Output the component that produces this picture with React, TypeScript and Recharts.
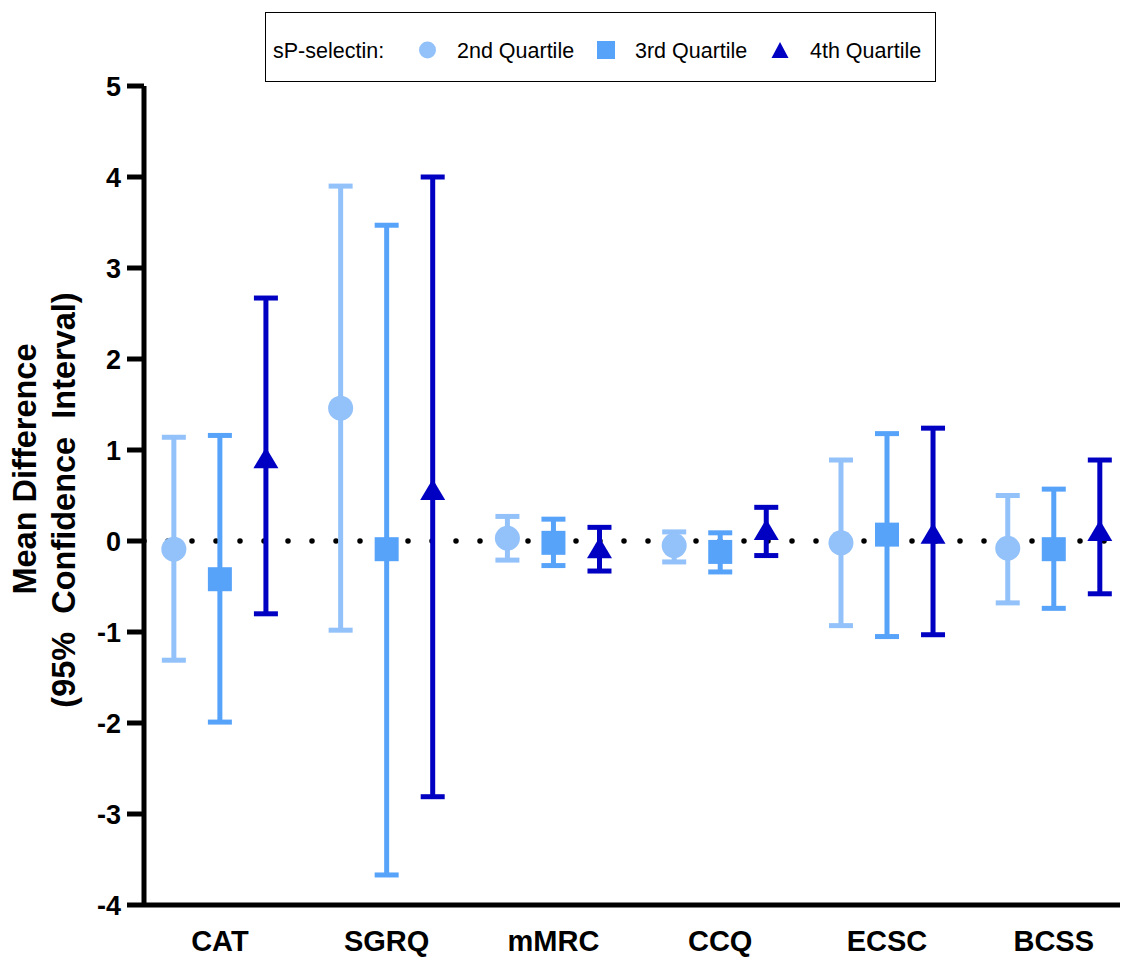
import React from 'react';
import { ComposedChart, Scatter, XAxis, YAxis, ErrorBar, ReferenceLine, Legend } from 'recharts';

const categories = ['CAT', 'SGRQ', 'mMRC', 'CCQ', 'ECSC', 'BCSS'];
const yTicks = [-4, -3, -2, -1, 0, 1, 2, 3, 4, 5];

const q2Mean = [-0.09, 1.46, 0.03, -0.05, -0.02, -0.08];
const q2Low = [-1.31, -0.98, -0.21, -0.23, -0.93, -0.68];
const q2High = [1.14, 3.9, 0.27, 0.1, 0.89, 0.5];

const q3Mean = [-0.42, -0.09, -0.02, -0.12, 0.07, -0.09];
const q3Low = [-1.99, -3.67, -0.27, -0.34, -1.05, -0.74];
const q3High = [1.16, 3.47, 0.24, 0.09, 1.18, 0.57];

const q4Mean = [0.91, 0.56, -0.08, 0.12, 0.08, 0.11];
const q4Low = [-0.8, -2.81, -0.33, -0.16, -1.03, -0.58];
const q4High = [2.67, 4.0, 0.15, 0.37, 1.24, 0.89];

const C_LIGHT = '#93C1F9';
const C_MID = '#57A3FA';
const C_DARK = '#0000C3';
const FONT = 'Arial, "Liberation Sans", Helvetica, sans-serif';

const OFFSET = 0.276;

const build = (mean: number[], low: number[], high: number[], off: number) =>
  mean.map((m, i) => ({ x: i + 1 + off, y: m, err: [m - low[i], high[i] - m] }));

const q2Data = build(q2Mean, q2Low, q2High, -OFFSET);
const q3Data = build(q3Mean, q3Low, q3High, 0);
const q4Data = build(q4Mean, q4Low, q4High, OFFSET);

const CircleShape = (p: any) => <circle cx={p.cx} cy={p.cy} r={12.5} fill={C_LIGHT} />;
const SquareShape = (p: any) => <rect x={p.cx - 12} y={p.cy - 12} width={24} height={24} fill={C_MID} />;
const TriangleShape = (p: any) => (
  <polygon
    points={`${p.cx},${p.cy - 11} ${p.cx - 12.5},${p.cy + 10} ${p.cx + 12.5},${p.cy + 10}`}
    fill={C_DARK}
  />
);

const XTick = (p: any) => {
  const idx = Math.round(p.payload.value) - 1;
  return (
    <text x={p.x} y={p.y + 46} textAnchor="middle" fontFamily={FONT} fontWeight="bold" fontSize={29} fill="#000">
      {categories[idx]}
    </text>
  );
};

const YTick = (p: any) => (
  <text x={p.x} y={p.y + 9.5} textAnchor="end" fontFamily={FONT} fontWeight="bold" fontSize={27} fill="#000">
    {p.payload.value}
  </text>
);

const YLabel = () => (
  <g>
    <text
      transform="translate(28,461) rotate(-90)"
      x={0}
      y={0}
      textAnchor="middle"
      fontFamily={FONT}
      fontWeight="bold"
      fontSize={32.5}
      fill="#000"
    >
      Mean Difference
    </text>
    <text
      transform="translate(67,492) rotate(-90)"
      x={0}
      y={0}
      textAnchor="middle"
      fontFamily={FONT}
      fontWeight="bold"
      fontSize={32.5}
      fill="#000"
      style={{ whiteSpace: 'pre' }}
    >
      {'(95%  Confidence  Interval)'}
    </text>
  </g>
);

const legendItems = [
  { label: '2nd Quartile', color: C_LIGHT, kind: 'circle', mx: 162.5, tx: 192 },
  { label: '3rd Quartile', color: C_MID, kind: 'square', mx: 341, tx: 370 },
  { label: '4th Quartile', color: C_DARK, kind: 'triangle', mx: 515, tx: 545 },
];

const LegendBox = () => (
  <svg width={672} height={71} style={{ display: 'block' }}>
    <rect x={0.5} y={0.5} width={670} height={69} fill="#fff" stroke="#000" strokeWidth={1} />
    <text x={8} y={46} fontFamily={FONT} fontSize={21.5} fill="#000">sP-selectin:</text>
    {legendItems.map((it) => (
      <g key={it.label}>
        {it.kind === 'circle' && <circle cx={it.mx} cy={38} r={8.5} fill={it.color} />}
        {it.kind === 'square' && <rect x={it.mx - 9} y={29} width={18} height={18} fill={it.color} />}
        {it.kind === 'triangle' && (
          <polygon points={`${it.mx},${30} ${it.mx - 8.5},${46} ${it.mx + 8.5},${46}`} fill={it.color} />
        )}
        <text x={it.tx} y={46} fontFamily={FONT} fontSize={21.5} fill="#000">{it.label}</text>
      </g>
    ))}
  </svg>
);

export default function App() {
  return (
    <div style={{ width: 1120, height: 950, position: 'relative' }}>
      <ComposedChart width={1120} height={950} margin={{ top: 78, right: 0, bottom: 0, left: 0 }}>
        <XAxis
          type="number"
          dataKey="x"
          domain={[0.545, 6.445]}
          ticks={[1, 2, 3, 4, 5, 6]}
          allowDataOverflow
          height={53}
          tickSize={0}
          tickMargin={0}
          tickLine={false}
          axisLine={{ stroke: '#000', strokeWidth: 5 }}
          tick={<XTick />}
          interval={0}
        />
        <YAxis
          type="number"
          dataKey="y"
          domain={[-4, 5]}
          ticks={yTicks}
          allowDataOverflow
          width={136}
          tickSize={17}
          tickMargin={6}
          tickLine={{ stroke: '#000', strokeWidth: 5 }}
          axisLine={{ stroke: '#000', strokeWidth: 5 }}
          tick={<YTick />}
          interval={0}
          label={{ content: <YLabel /> }}
        />
        <ReferenceLine
          y={0}
          stroke="#000"
          strokeWidth={5.5}
          strokeDasharray="0 24"
          strokeLinecap="round"
        />
        <Scatter name="2nd Quartile" data={q2Data} dataKey="y" shape={<CircleShape />} isAnimationActive={false}>
          <ErrorBar dataKey="err" direction="y" width={12} stroke={C_LIGHT} strokeWidth={5} isAnimationActive={false} />
        </Scatter>
        <Scatter name="3rd Quartile" data={q3Data} dataKey="y" shape={<SquareShape />} isAnimationActive={false}>
          <ErrorBar dataKey="err" direction="y" width={12} stroke={C_MID} strokeWidth={5} isAnimationActive={false} />
        </Scatter>
        <Scatter name="4th Quartile" data={q4Data} dataKey="y" shape={<TriangleShape />} isAnimationActive={false}>
          <ErrorBar dataKey="err" direction="y" width={12} stroke={C_DARK} strokeWidth={5} isAnimationActive={false} />
        </Scatter>
        <Legend
          layout="vertical"
          align="center"
          verticalAlign="middle"
          wrapperStyle={{ left: 257, top: 4, width: 672, height: 71 }}
          content={<LegendBox />}
        />
      </ComposedChart>
    </div>
  );
}
